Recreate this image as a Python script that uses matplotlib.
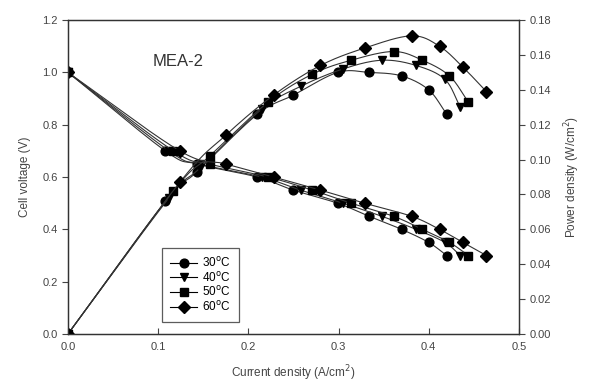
import numpy as np
import matplotlib
matplotlib.use("Agg")
import matplotlib.pyplot as plt

plt.rcParams['font.family'] = ['Liberation Sans', 'DejaVu Sans']

# cell voltage levels (same for every temperature)
voltage = [1.0, 0.70, 0.65, 0.60, 0.55, 0.50, 0.45, 0.40, 0.35, 0.30]

# current density (A/cm2) at each voltage level
cur_30 = [0, 0.108, 0.143, 0.210, 0.250, 0.299, 0.334, 0.370, 0.400, 0.420]
cur_40 = [0, 0.112, 0.146, 0.215, 0.258, 0.305, 0.348, 0.386, 0.418, 0.435]
cur_50 = [0, 0.117, 0.157, 0.222, 0.271, 0.314, 0.361, 0.393, 0.423, 0.444]
cur_60 = [0, 0.124, 0.175, 0.228, 0.280, 0.329, 0.381, 0.412, 0.438, 0.464]

# power density (W/cm2)
pow_30 = [0, 0.076, 0.093, 0.126, 0.137, 0.150, 0.150, 0.148, 0.140, 0.126]
pow_40 = [0, 0.078, 0.095, 0.129, 0.142, 0.152, 0.157, 0.154, 0.146, 0.130]
pow_50 = [0, 0.082, 0.102, 0.133, 0.149, 0.157, 0.162, 0.157, 0.148, 0.133]
pow_60 = [0, 0.087, 0.114, 0.137, 0.154, 0.164, 0.171, 0.165, 0.153, 0.139]

labels = ['30$^{\\mathrm{o}}$C', '40$^{\\mathrm{o}}$C', '50$^{\\mathrm{o}}$C', '60$^{\\mathrm{o}}$C']
markers = ['o', 'v', 's', 'D']
currents = [cur_30, cur_40, cur_50, cur_60]
powers = [pow_30, pow_40, pow_50, pow_60]


def smooth(x, y, n=20):
    # catmull-rom through the points, like the spline in the original plot
    x = np.asarray(x, float)
    y = np.asarray(y, float)
    px = np.concatenate([[2 * x[0] - x[1]], x, [2 * x[-1] - x[-2]]])
    py = np.concatenate([[2 * y[0] - y[1]], y, [2 * y[-1] - y[-2]]])
    t = np.linspace(0, 1, n)[:-1]
    xs, ys = [], []
    for i in range(1, len(px) - 2):
        for p, out in ((px, xs), (py, ys)):
            p0, p1, p2, p3 = p[i - 1], p[i], p[i + 1], p[i + 2]
            out.extend(0.5 * (2 * p1 + (-p0 + p2) * t
                              + (2 * p0 - 5 * p1 + 4 * p2 - p3) * t ** 2
                              + (-p0 + 3 * p1 - 3 * p2 + p3) * t ** 3))
    xs.append(x[-1])
    ys.append(y[-1])
    return np.array(xs), np.array(ys)


fig = plt.figure(figsize=(5.91, 3.87), dpi=100)
ax = fig.add_axes([0.115, 0.137, 0.763, 0.811])
ax2 = ax.twinx()

ms = 6.3
for cur, pw, m, lab in zip(currents, powers, markers, labels):
    sx, sy = smooth(cur, voltage)
    ax.plot(sx, sy, color='#333333', lw=0.8)
    ax.plot(cur, voltage, ls='none', marker=m, ms=ms, color='black')
    sx, sy = smooth(cur, pw)
    ax2.plot(sx, sy, color='#333333', lw=0.8)
    ax2.plot(cur, pw, ls='none', marker=m, ms=ms, color='black')
    # legend handle
    ax.plot([], [], color='black', lw=0.8, marker=m, ms=ms, label=lab)

ax.set_xlim(0, 0.5)
ax.set_ylim(0, 1.2)
ax2.set_ylim(0, 0.18)
ax.set_xticks(np.arange(0, 0.51, 0.1))
ax.set_yticks(np.arange(0, 1.21, 0.2))
ax2.set_yticks(np.arange(0, 0.181, 0.02))
ax.xaxis.set_major_formatter(matplotlib.ticker.FormatStrFormatter('%.1f'))
ax.yaxis.set_major_formatter(matplotlib.ticker.FormatStrFormatter('%.1f'))
ax2.yaxis.set_major_formatter(matplotlib.ticker.FormatStrFormatter('%.2f'))

tc = '#444444'
ax.tick_params(axis='x', direction='in', length=4, labelsize=8, colors=tc, pad=6)
ax.tick_params(axis='y', direction='out', length=4, labelsize=8, colors=tc)
ax2.tick_params(axis='y', direction='out', length=4, labelsize=8, colors=tc)
for a in (ax, ax2):
    for s in a.spines.values():
        s.set_color('#333333')
        s.set_linewidth(0.9)

ax.set_xlabel('Current density (A/cm$^2$)', fontsize=8.5, color=tc, labelpad=8)
ax.set_ylabel('Cell voltage (V)', fontsize=8.5, color=tc, labelpad=8)
ax2.set_ylabel('Power density (W/cm$^2$)', fontsize=8.5, color=tc, labelpad=8)

ax.text(0.094, 1.04, 'MEA-2', fontsize=12, color='#333333', va='center', ha='left')

leg = ax.legend(loc='lower left', bbox_to_anchor=(0.208, 0.038), fontsize=8.5,
                frameon=True, fancybox=False, handlelength=2.3,
                labelspacing=0.05, borderpad=0.7, handletextpad=0.4,
                borderaxespad=0)
leg.get_frame().set_edgecolor('#333333')
leg.get_frame().set_linewidth(0.9)

fig.savefig('out.png', dpi=100)
